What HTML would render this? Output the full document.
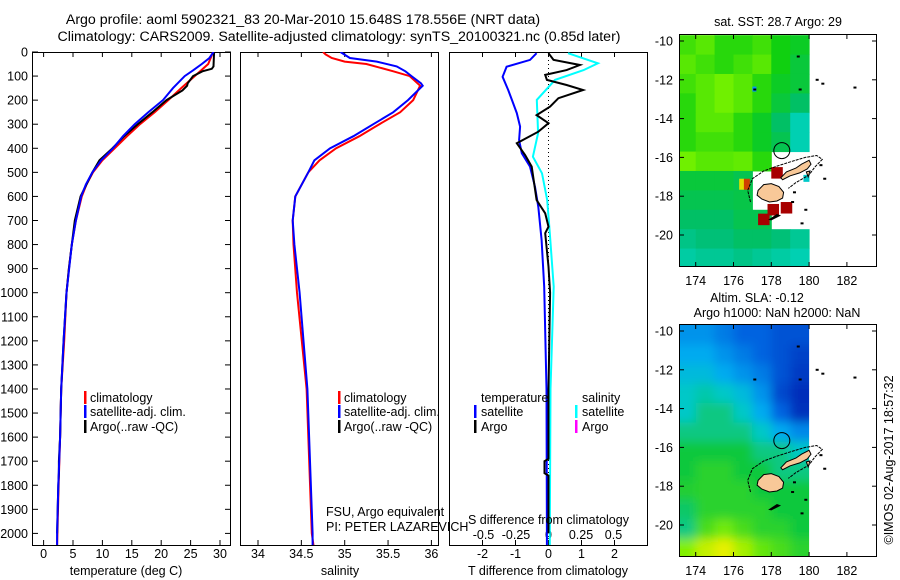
<!DOCTYPE html>
<html><head><meta charset="utf-8"><style>
body{margin:0;background:#fff;}
svg{display:block;font-family:"Liberation Sans",Arial,sans-serif;}
text{font-size:12.5px;fill:#000;}
text.big{font-size:14.2px;}
</style></head><body>
<svg id="c" width="900" height="580" viewBox="0 0 900 580">
<defs>
<clipPath id="cp1"><rect x="32" y="52" width="199" height="493"/></clipPath>
<clipPath id="cp2"><rect x="240" y="52" width="199" height="493"/></clipPath>
<clipPath id="cp3"><rect x="449" y="52" width="199" height="493"/></clipPath>
<clipPath id="cm1"><rect x="679" y="34" width="198" height="233"/></clipPath>
<clipPath id="cm2"><rect x="679" y="324" width="198" height="233"/></clipPath>
<filter id="blur" x="-20%" y="-20%" width="140%" height="140%"><feGaussianBlur stdDeviation="5"/></filter>
</defs>
<text class="big" x="303" y="24" text-anchor="middle">Argo profile: aoml 5902321_83 20-Mar-2010 15.648S 178.556E (NRT data)</text>
<text class="big" x="339" y="41" text-anchor="middle">Climatology: CARS2009. Satellite-adjusted climatology: synTS_20100321.nc (0.85d later)</text>
<g id="g"></g>
</svg>
<script>
// ---- profile data (depth m) ----
const tDepthClim=[0,20,50,100,150,200,250,300,350,400,450,500,550,600,700,800,900,1000,1200,1400,1600,1800,2000,2050];
const tClim=[28.8,28.5,28.0,25.7,23.4,21.2,18.9,16.4,14.2,12.1,10.0,8.4,7.3,6.5,5.5,4.8,4.3,3.9,3.5,3.0,2.8,2.55,2.35,2.3];
const tDepthSat=[0,25,50,75,100,150,200,250,300,350,400,450,500,550,600,700,800,1000,1200,1400,1600,1800,2000,2050];
const tSat=[28.9,28.2,26.9,25.5,24.0,22.0,20.3,17.8,15.5,13.5,11.8,9.8,8.3,7.2,6.4,5.5,4.8,3.9,3.4,3.0,2.8,2.5,2.3,2.3];
const tDepthArgo=[0,60,70,80,100,130,140,160,200,250,300,350,400,450,500,600,700,800,900,1000,1200,1400,1600,1700,1750,1800,2000];
const tArgo=[29.0,28.9,28.6,27.0,25.4,24.5,24.4,23.6,20.9,18.5,16.0,13.7,11.7,9.5,8.3,6.3,5.3,4.8,4.3,3.9,3.4,3.0,2.8,2.6,2.6,2.5,2.3];
const sDepthClim=[0,10,25,40,50,80,100,140,200,250,300,350,400,450,500,600,700,800,1000,1400,2000,2050];
const sClim=[34.75,34.78,34.85,35.0,35.25,35.56,35.75,35.87,35.79,35.64,35.40,35.17,34.90,34.71,34.58,34.43,34.40,34.41,34.45,34.56,34.62,34.64];
const sDepthSat=[0,25,40,60,80,100,130,140,200,250,300,350,400,450,500,600,700,800,1000,1400,2000,2050];
const sSat=[34.95,35.06,35.37,35.60,35.70,35.77,35.88,35.90,35.73,35.56,35.33,35.10,34.83,34.65,34.58,34.43,34.40,34.42,34.48,34.57,34.63,34.63];
const dDepthT=[5,33,61,103,158,199,254,310,366,421,476,560,643,781,975,1400,2000,2050];
const dTsat=[-0.36,-0.56,-1.27,-1.39,-1.22,-1.11,-0.96,-0.86,-0.89,-0.81,-0.56,-0.41,-0.31,-0.21,-0.13,-0.06,-0.05,-0.05];
const dDepthA=[5,33,54,75,95,116,137,158,192,227,262,296,331,379,428,476,615,670,726,753,892,1000,1400,1690,1700,1750,1760,2000];
const dTargo=[0,0.15,0.95,0.55,-0.1,-0.05,0.55,1.05,0.3,0.05,-0.36,0,-0.31,-0.96,-0.71,-0.51,-0.36,-0.1,0,-0.1,0,0.05,0,0,-0.12,-0.12,0,0];
const dDepthS=[5,47,75,116,199,337,435,504,615,753,975,1400,2000,2050];
const dSsat=[0.15,0.38,0.27,0.05,-0.09,-0.08,-0.12,-0.05,-0.01,0.01,0.04,0.015,0.01,0.01];
const depthTicks=[0,100,200,300,400,500,600,700,800,900,1000,1100,1200,1300,1400,1500,1600,1700,1800,1900,2000];
const tempTicks=[0,5,10,15,20,25,30];
const salTicks=[34,34.5,35,35.5,36];
const salTickLabels=["34","34.5","35","35.5","36"];
const dtTicks=[-2,-1,0,1,2];
const dsTicks=[-0.5,-0.25,0,0.25,0.5];
const dsTickLabels=["-0.5","-0.25","0","0.25","0.5"];
// ---- map data: rows lat -9.7.. -21.7 (1 deg), cols lon 173..180 (1 deg) ----
const sstGrid=[
[0.65,0.7,0.6,0.6,0.65,0.55,0.5],
[0.7,0.65,0.6,0.65,0.7,0.55,0.45],
[0.65,0.7,0.75,0.7,0.6,0.5,0.45],
[0.6,0.7,0.75,0.7,0.6,0.45,0.35],
[0.6,0.7,0.7,0.6,0.5,0.35,0.1],
[0.6,0.65,0.65,0.6,0.5,0.4,0.1],
[0.75,0.7,0.7,0.72,0.6,null,null],
[0.45,0.45,0.45,0.4,null,null,null],
[0.4,0.4,0.4,0.42,null,null,null],
[0.35,0.35,0.35,0.4,0.4,null,null],
[0.25,0.3,0.3,0.35,0.35,0.3,0.2],
[0.15,0.2,0.2,0.25,0.2,0.15,0.1]];
const slaGrid=[
[0.3,0.3,0.25,0.2,0.2,0.15,0.15],
[0.35,0.35,0.3,0.25,0.2,0.15,0.1],
[0.4,0.4,0.35,0.3,0.25,0.15,0.08],
[0.45,0.47,0.45,0.4,0.3,0.12,0.04],
[0.45,0.5,0.5,0.45,0.35,0.2,0.05],
[0.5,0.5,0.5,0.5,0.45,0.35,0.28],
[0.55,0.55,0.55,0.55,0.5,0.5,0.45],
[0.55,0.6,0.6,0.55,0.55,0.5,0.5],
[0.58,0.6,0.6,0.6,0.55,0.55,0.55],
[0.52,0.6,0.6,0.6,0.6,0.55,0.55],
[0.5,0.65,0.72,0.65,0.6,0.6,0.55],
[0.75,0.88,0.95,0.82,0.7,0.65,0.6]];
const redCells=[[178.0,-16.5],[178.5,-18.3],[177.8,-18.4],[177.3,-18.9]];
const lonTicks=[174,176,178,180,182];
const latTicks=[-10,-12,-14,-16,-18,-20];

const NS='http://www.w3.org/2000/svg';
const G=document.getElementById('g');
function mk(tag,attrs,parent){const e=document.createElementNS(NS,tag);for(const k in attrs)e.setAttribute(k,attrs[k]);(parent||G).appendChild(e);return e;}
function txt(x,y,s,anchor,parent){const e=mk('text',{x:x,y:y,'text-anchor':anchor||'start'},parent);e.textContent=s;return e;}
const yD=d=>52+d*0.2407;
const xT=t=>43.6+t*5.88;
const xS=s=>258+(s-34)*86.7;
const xDT=v=>548.5+v*33;
const xDS=v=>548.5+v*130;
function line(xs,ds,fx,color,clip,name,w){
  const g=mk('g',{'clip-path':'url(#'+clip+')'});
  const p=xs.map((v,i)=>fx(v).toFixed(1)+','+yD(ds[i]).toFixed(1)).join(' ');
  const e=mk('polyline',{points:p,fill:'none',stroke:color,'stroke-width':w||2},g);
  
  
}
const panels=[[32,'cp1'],[240,'cp2'],[449,'cp3']];
panels.forEach((p,i)=>{const r=mk('rect',{x:p[0]+0.5,y:52.5,width:198,height:493,fill:'none',stroke:'#000','stroke-width':1});
});
depthTicks.forEach(d=>{const y=yD(d);
 mk('line',{x1:32,x2:38,y1:y,y2:y,stroke:'#000'});mk('line',{x1:225,x2:231,y1:y,y2:y,stroke:'#000'});
 const t=txt(28,y+4.5,String(d),'end');});
function xticks(vals,labels,fx){vals.forEach((v,i)=>{const x=fx(v);
 mk('line',{x1:x,x2:x,y1:52,y2:57,stroke:'#000'});mk('line',{x1:x,x2:x,y1:540,y2:545,stroke:'#000'});
 const t=txt(x,558,labels[i],'middle');});}
xticks(tempTicks,tempTicks.map(String),xT);
xticks(salTicks,salTickLabels,xS);
xticks(dtTicks,dtTicks.map(String),xDT);
dsTicks.forEach((v,i)=>{const t=txt(xDS(v),539,dsTickLabels[i],'middle');});
const z=mk('line',{x1:xDT(0),x2:xDT(0),y1:52,y2:545,stroke:'#000','stroke-dasharray':'1,3'});

line(tClim,tDepthClim,xT,'#f00','cp1','temp-climatology-line');
line(tArgo,tDepthArgo,xT,'#000','cp1','temp-argo-line');
line(tSat,tDepthSat,xT,'#00f','cp1','temp-satellite-line');
line(sClim,sDepthClim,xS,'#f00','cp2','sal-climatology-line');
line(sSat,sDepthSat,xS,'#00f','cp2','sal-satellite-line');
line(dSsat,dDepthS,xDS,'#0ff','cp3','s-diff-satellite-line');
line(dTsat,dDepthT,xDT,'#00f','cp3','t-diff-satellite-line');
line(dTargo,dDepthA,xDT,'#000','cp3','t-diff-argo-line');
[[126,575,'temperature (deg C)','x-axis-title-temperature'],[340,575,'salinity','x-axis-title-salinity'],[548,575,'T difference from climatology','x-axis-title-tdiff']].forEach(a=>{const t=txt(a[0],a[1],a[2],'middle');});
let t1=txt(468,524,'S difference from climatology');
let t2=txt(326,516,'FSU, Argo equivalent');
let t3=txt(326,531,'PI: PETER LAZAREVICH');
function leg(bx,tx,y,color,label,name){if(color){const b=mk('rect',{x:bx,y:y-11,width:2.5,height:13,fill:color});}
 const t=txt(tx,y,label);}
leg(84,90,402,'#f00','climatology','legend-climatology');
leg(84,90,416,'#00f','satellite-adj. clim.','legend-satellite');
leg(84,90,431,'#000','Argo(..raw -QC)','legend-argo');
leg(338,344,402,'#f00','climatology','legend2-climatology');
leg(338,344,416,'#00f','satellite-adj. clim.','legend2-satellite');
leg(338,344,431,'#000','Argo(..raw -QC)','legend2-argo');
leg(0,481,402,null,'temperature','legend-temperature-heading');
leg(474,481,416,'#00f','satellite','legend-t-satellite');
leg(474,481,431,'#000','Argo','legend-t-argo');
leg(0,582,402,null,'salinity','legend-salinity-heading');
leg(575,582,416,'#0ff','satellite','legend-s-satellite');
leg(575,582,431,'#f0f','Argo','legend-s-argo');
// ---- maps ----
function interp(stops,v){v=Math.max(0,Math.min(1,v));for(let i=1;i<stops.length;i++){if(v<=stops[i][0]){const a=stops[i-1],b=stops[i],f=(v-a[0])/(b[0]-a[0]);
 const c=[0,1,2].map(k=>Math.round(a[1][k]+(b[1][k]-a[1][k])*f));return 'rgb('+c.join(',')+')';}}return 'rgb('+stops[stops.length-1][1].join(',')+')';}
const sstStops=[[0,[0,216,208]],[0.33,[0,190,110]],[0.55,[16,208,16]],[0.75,[112,240,0]],[1,[224,240,0]]];
const slaStops=[[0,[0,32,176]],[0.2,[0,100,224]],[0.35,[0,170,240]],[0.45,[0,200,200]],[0.55,[16,200,60]],[0.75,[130,240,0]],[0.95,[230,240,0]],[1,[240,240,0]]];
function drawMap(top,grid,stops,clip,name,blur){
 const mx=lon=>695.7+(lon-174)*18.9;
 const my=lat=>top+7+(-10-lat)*19.4;
 const g=mk('g',{'clip-path':'url(#'+clip+')'});
 
 const cg=mk('g',blur?{filter:'url(#blur)'}:{},g);
 const nr=grid.length,nc=grid[0].length,P=blur?20:0;
 grid.forEach((row,r)=>row.forEach((v,c)=>{if(v===null)return;
  const lon0=173+c,lat0=-9.7-r;
  let x0=mx(lon0),y0=my(lat0),x1=mx(lon0+1)+0.5,y1=my(lat0-1)+0.5;
  if(c==0)x0-=P;if(c==nc-1)x1+=P;if(r==0)y0-=P;if(r==nr-1)y1+=P;
  const e=mk('rect',{x:x0,y:y0,width:x1-x0,height:y1-y0,fill:interp(stops,v)},cg);
  }));
 if(blur){mk('rect',{x:mx(180),y:top,width:80,height:240,fill:'#fff'},g);}
 return {g,mx,my};
}
function coast(m,sst){
 const g=m.g,mx=m.mx,my=m.my;
 const poly=(pts,fill,sw)=>mk('polygon',{points:pts.map(p=>mx(p[0]).toFixed(1)+','+my(p[1]).toFixed(1)).join(' '),fill:fill,stroke:'#000','stroke-width':sw||1},g);
 if(sst){redCells.forEach(c=>{mk('rect',{x:mx(c[0]),y:my(c[1]),width:11.5,height:11.5,fill:'#a80000'},g);});
  mk('rect',{x:mx(176.3),y:my(-17.1),width:5,height:11,fill:'#e0e000'},g);mk('rect',{x:mx(176.55),y:my(-17.1),width:6,height:11,fill:'#d04000'},g);
  mk('rect',{x:mx(179.7),y:my(-16.9),width:6,height:7,fill:'#00c8c8'},g);
  mk('rect',{x:mx(177.0),y:my(-12.35),width:4,height:5,fill:'#0090ff'},g);}
 const reef=[[176.9,-18.3],[176.75,-17.7],[177.0,-17.1],[177.6,-16.7],[178.3,-16.45],[179.1,-16.2],[179.8,-16.0],[180.4,-15.9],[180.7,-16.1],[180.3,-16.5],[180.0,-16.9],[179.3,-17.3],[178.9,-17.6]];
 mk('polyline',{points:reef.map(p=>mx(p[0]).toFixed(1)+','+my(p[1]).toFixed(1)).join(' '),fill:'none',stroke:'#000','stroke-width':1,'stroke-dasharray':'3,1'},g);
 poly([[177.3,-17.7],[177.6,-17.4],[178.0,-17.35],[178.4,-17.5],[178.65,-17.8],[178.6,-18.1],[178.3,-18.25],[177.9,-18.3],[177.5,-18.15],[177.25,-17.95]],'#f8c898');
 poly([[178.5,-17.05],[178.8,-16.75],[179.3,-16.55],[179.6,-16.35],[180.0,-16.15],[180.1,-16.35],[179.9,-16.6],[179.5,-16.8],[179.0,-16.95],[178.6,-17.15]],'#f8c898');
 poly([[179.85,-16.75],[180.05,-16.7],[179.95,-17.0]],'#f8c898');
 poly([[177.9,-19.2],[178.3,-18.95],[178.45,-19.0],[178.0,-19.22]],'#000');
 [[179.5,-12.5],[177.1,-12.5],[180.4,-12.0],[180.7,-12.2],[182.4,-12.4],[179.4,-10.8],[179.2,-17.8],[179.1,-18.3],[179.8,-18.7],[179.6,-19.4],[180.8,-17.1],[180.6,-16.4]].forEach(p=>mk('rect',{x:mx(p[0])-1,y:my(p[1])-1,width:3,height:2,fill:'#000'},g));
 const c=mk('circle',{cx:mx(178.556),cy:my(-15.648),r:8,fill:'none',stroke:'#000','stroke-width':1},g);
 
}
function mapAxes(top,mx,my){
 const f=mk('rect',{x:679.5,y:top+0.5,width:197,height:232,fill:'none',stroke:'#000'});
 lonTicks.forEach(l=>{const x=mx(l);mk('line',{x1:x,x2:x,y1:top,y2:top+5,stroke:'#000'});mk('line',{x1:x,x2:x,y1:top+228,y2:top+233,stroke:'#000'});
  const t=txt(x,top+251,String(l),'middle');});
 latTicks.forEach(l=>{const y=my(l);mk('line',{x1:679,x2:684,y1:y,y2:y,stroke:'#000'});mk('line',{x1:872,x2:877,y1:y,y2:y,stroke:'#000'});
  const t=txt(673,y+4.5,String(l),'end');});
}
const m1=drawMap(34,sstGrid,sstStops,'cm1','sst-map',false);coast(m1,true);mapAxes(34,m1.mx,m1.my);
const m2=drawMap(324,slaGrid,slaStops,'cm2','sla-map',true);coast(m2,false);mapAxes(324,m2.mx,m2.my);
let a=txt(778,26,'sat. SST: 28.7 Argo: 29','middle');
a=txt(757,302,'Altim. SLA: -0.12','middle');
a=txt(777,317,'Argo h1000: NaN h2000: NaN','middle');
a=txt(0,0,'©IMOS 02-Aug-2017 18:57:32','middle');a.setAttribute('transform','translate(893,460) rotate(-90)');

</script>
</body></html>
